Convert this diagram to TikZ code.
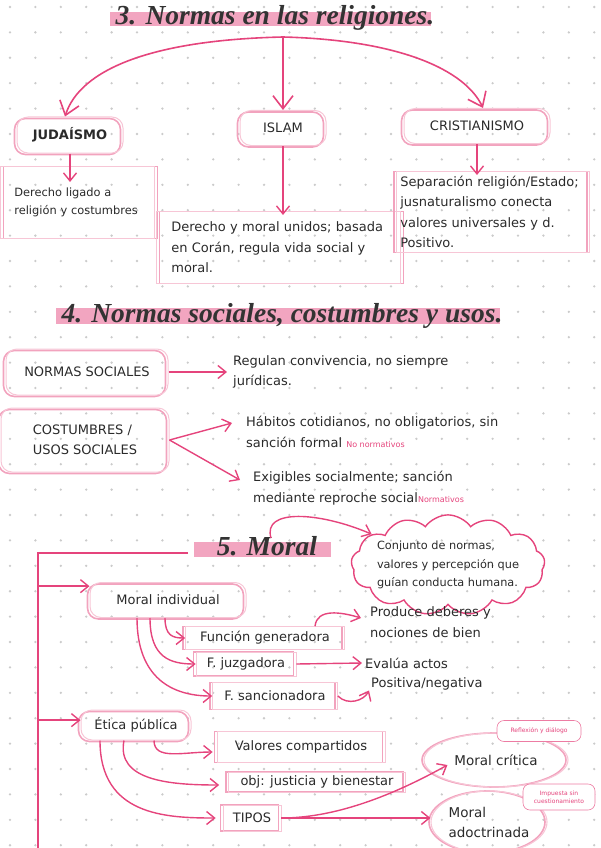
\documentclass[tikz,border=0pt]{standalone}
\usepackage{fontspec}
\setmainfont{DejaVu Sans}
\newfontfamily\titulofont{Liberation Serif}
\usepackage{xcolor}
\usepackage{tikz}
\usetikzlibrary{arrows.meta,positioning,calc,shapes.geometric,shapes.symbols}

\definecolor{rosa}{HTML}{E5447C}
\definecolor{rosaclaro}{HTML}{F7C6D6}
\definecolor{rosasombra}{HTML}{F2A3BE}
\definecolor{rosabanda}{HTML}{F2A5C0}
\definecolor{punto}{HTML}{CBCBCB}
\definecolor{tinta}{HTML}{2A2A2A}

\newcommand{\notarosa}[1]{{\color{rosa}\fontsize{8}{9}\selectfont #1}}

\tikzset{
  sombra/.style={preaction={draw=rosasombra,line width=1.6pt,transform canvas={shift={#1}}}},
  nube/.style={draw=rosaclaro,line width=1pt,rounded corners=11pt,
    sombra={(-2.5pt,-1.5pt)},text=tinta,font=\fontsize{13}{20}\selectfont,inner sep=0pt},
  caja/.style={draw=rosaclaro,line width=0.7pt,sombra={(#1,0pt)},text=tinta,
    font=\fontsize{13}{20.5}\selectfont,inner sep=0pt},
  caja/.default=-2.5pt,
  elipse/.style={ellipse,draw=rosaclaro,line width=1.1pt,sombra={(-2pt,0pt)},
    text=tinta,font=\fontsize{13.5}{20}\selectfont,inner sep=0pt},
  nubecita/.style={draw=rosa!70,fill=white,line width=0.6pt,rounded corners=7pt,
    text=rosa,font=\fontsize{6}{8}\selectfont,inner sep=0pt,align=center},
  texto/.style={text=tinta,font=\fontsize{13}{20.5}\selectfont,align=left,inner sep=0pt},
  titulo/.style={text=black!80,font=\titulofont\bfseries\itshape\fontsize{27.5}{30}\selectfont,inner sep=0pt},
  flecha/.style={->,draw=rosa,line width=1.4pt},
  flechagrande/.style={-{Straight Barb[length=13pt,width=20pt]},draw=rosa,line width=1.6pt},
  linea/.style={draw=rosa,line width=1.4pt}
}

\begin{document}
\begin{tikzpicture}[x=1pt,y=-1pt,>={Straight Barb[length=8pt,width=13pt]}]
  \useasboundingbox (0,0) rectangle (601,848);
  \clip (0,0) rectangle (601,848);
  % puntos de fondo
  \foreach \i in {0,...,23}
    \foreach \j in {0,...,33}
      \fill[punto] ({10+25.4*\i},{7+25.4*\j}) circle (1.3pt);

  % 3. religiones
  \fill[rosabanda] (110,12) rectangle (431,26);
  \node[titulo,anchor=base] (t3) at (275,25) {3. Normas en las religiones.};
  \coordinate (arco) at (283,37);
  \node[nube,font=\bfseries\fontsize{13}{20}\selectfont,minimum width=106,minimum height=36] (jud) at (70,135) {JUDAÍSMO};
  \node[nube,minimum width=86,minimum height=35] (isl) at (283,128) {ISLAM};
  \node[nube,minimum width=146,minimum height=35] (cri) at (477,126) {CRISTIANISMO};
  \draw[flechagrande] (arco) .. controls (150,40) and (80,70) .. ([xshift=-5pt]jud.north);
  \draw[flechagrande] (arco) -- (isl.north);
  \draw[flechagrande] (arco) .. controls (400,40) and (465,70) .. ([xshift=6pt]cri.north);

  \node[caja=3pt,anchor=north west,minimum width=154,minimum height=72,text width=126,align=left,
    font=\fontsize{11.4}{18}\selectfont] (cjud) at (0,166) {Derecho ligado a\\religión y costumbres};
  \node[caja=3pt,anchor=north west,minimum width=244,minimum height=72,text width=214,align=left]
    (cisl) at (156,211) {Derecho y moral unidos; basada\\en Corán, regula vida social y\\moral.};
  \node[caja,anchor=north west,minimum width=193,minimum height=81,text width=185,align=left]
    (ccri) at (396,171) {Separación religión/Estado;\\jusnaturalismo conecta\\valores universales y d.\\Positivo.};
  \draw[flecha] (jud.south) -- ($(jud.south |- cjud.north)+(0,16)$);
  \draw[flecha] (isl.south) -- ($(isl.south |- cisl.north)+(0,4)$);
  \draw[flecha] (cri.south) -- ($(cri.south |- ccri.north)+(0,4)$);

  % 4. normas sociales
  \fill[rosabanda] (56,308) rectangle (500,324);
  \node[titulo,anchor=base] (t4) at (282,322) {4. Normas sociales, costumbres y usos.};
  \node[nube,minimum width=162,minimum height=46] (nsoc) at (87,372) {NORMAS SOCIALES};
  \node[nube,minimum width=168,minimum height=64,align=left] (cos) at (85,440) {COSTUMBRES /\\USOS SOCIALES};
  \node[texto,anchor=west] (reg) at (233,372) {Regulan convivencia, no siempre\\jurídicas.};
  \node[texto,anchor=west] (hab) at (246,432) {Hábitos cotidianos, no obligatorios, sin\\sanción formal \notarosa{No normativos}};
  \node[texto,anchor=west] (exi) at (253,488) {Exigibles socialmente; sanción\\mediante reproche social\notarosa{Normativos}};
  \draw[flecha] (nsoc.east) -- ([xshift=-6pt]reg.west);
  \draw[flecha] (cos.east) -- ([xshift=-14pt,yshift=9pt]hab.west);
  \draw[flecha] (cos.east) -- ([xshift=-13pt,yshift=8pt]exi.west);

  % 5. moral
  \fill[rosabanda] (194,542) rectangle (331,557);
  \node[titulo,anchor=base] (t5) at (267,555) {5. Moral};
  \coordinate (b5) at (188,553);
  \coordinate (eje) at (38,553);
  \coordinate (ejefin) at (38,848);
  \draw[linea] (b5) -- (eje) -- (ejefin);
  \node[cloud,draw=rosa,line width=1.4pt,cloud puffs=13,cloud puff arc=110,aspect=2.4,inner sep=-4pt,
    text=tinta,align=left,font=\fontsize{11.3}{18.5}\selectfont] (def) at (448,565)
    {Conjunto de normas,\\valores y percepción que\\guían conducta humana.};
  \coordinate (c5) at (271,538);
  \draw[flecha] (c5) .. controls (262,508) and (320,512) .. (def.158);

  \node[nube,minimum width=156,minimum height=35] (morind) at (168,600) {Moral individual};
  \draw[flecha] (eje |- morind.170) -- (morind.170);
  \node[caja,minimum width=159,minimum height=23] (fgen) at (265,638) {Función generadora};
  \node[caja,minimum width=100,minimum height=24] (fjuz) at (246,664) {F. juzgadora};
  \node[caja,minimum width=125,minimum height=27] (fsan) at (275,696) {F. sancionadora};
  \draw[flecha] ([xshift=-3pt]morind.south) .. controls +(0,18) and +(-12,0) .. (fgen.west);
  \draw[flecha] ([xshift=-18pt]morind.south) .. controls +(0,40) and +(-25,0) .. (fjuz.west);
  \draw[flecha] ([xshift=-31pt]morind.south) .. controls +(0,60) and +(-40,0) .. (fsan.west);
  \node[texto,anchor=west] (prod) at (370,622) {Produce deberes y\\nociones de bien};
  \node[texto,anchor=west] (eva) at (365,663) {Evalúa actos};
  \node[texto,anchor=west] (pos) at (371,684) {Positiva/negativa};
  \draw[flecha] ([xshift=50pt]fgen.north) .. controls +(2,-18) and +(-20,-6) .. ([xshift=-9pt,yshift=4pt]prod.west);
  \draw[flecha] (fjuz.east) -- ([xshift=-3pt]eva.west);
  \draw[flecha] (fsan.east) .. controls +(10,10) and +(-5,10) .. ([xshift=-2pt]pos.south west);

  \node[nube,minimum width=110,minimum height=30] (etica) at (136,725) {Ética pública};
  \draw[flecha] (eje |- etica.175) -- (etica.175);
  \node[caja,minimum width=168,minimum height=31] (valores) at (301,747) {Valores compartidos};
  \node[caja,minimum width=177,minimum height=20] (obj) at (317,782) {obj: justicia y bienestar};
  \node[caja,minimum width=58,minimum height=26] (tipos) at (252,818) {TIPOS};
  \draw[flecha] ([xshift=18pt]etica.south) .. controls +(0,20) and +(-30,0) .. ([xshift=-4pt,yshift=-5pt]valores.west);
  \draw[flecha] ([xshift=-12pt]etica.south) .. controls +(-8,40) and +(-50,0) .. ([xshift=-9pt,yshift=-3pt]obj.west);
  \draw[flecha] ([xshift=-36pt]etica.south) .. controls +(0,75) and +(-50,0) .. ([xshift=-7pt]tipos.west);

  \node[elipse,minimum width=144,minimum height=54] (critica) at (496,760) {Moral crítica};
  \node[elipse,minimum width=116,minimum height=62,align=left] (adoc) at (489,822) {Moral\\adoctrinada};
  \draw[flecha] (tipos.east) .. controls +(60,0) and +(-45,25) .. ([xshift=24pt,yshift=-5pt]critica.west);
  \draw[flecha] (tipos.east) -- (tipos.east -| adoc.west);
  \node[nubecita,minimum width=84,minimum height=21] (refl) at (539,731) {Reflexión y diálogo};
  \node[nubecita,minimum width=72,minimum height=26] (imp) at (559,797) {Impuesta sin\\cuestionamiento};
\end{tikzpicture}
\end{document}
